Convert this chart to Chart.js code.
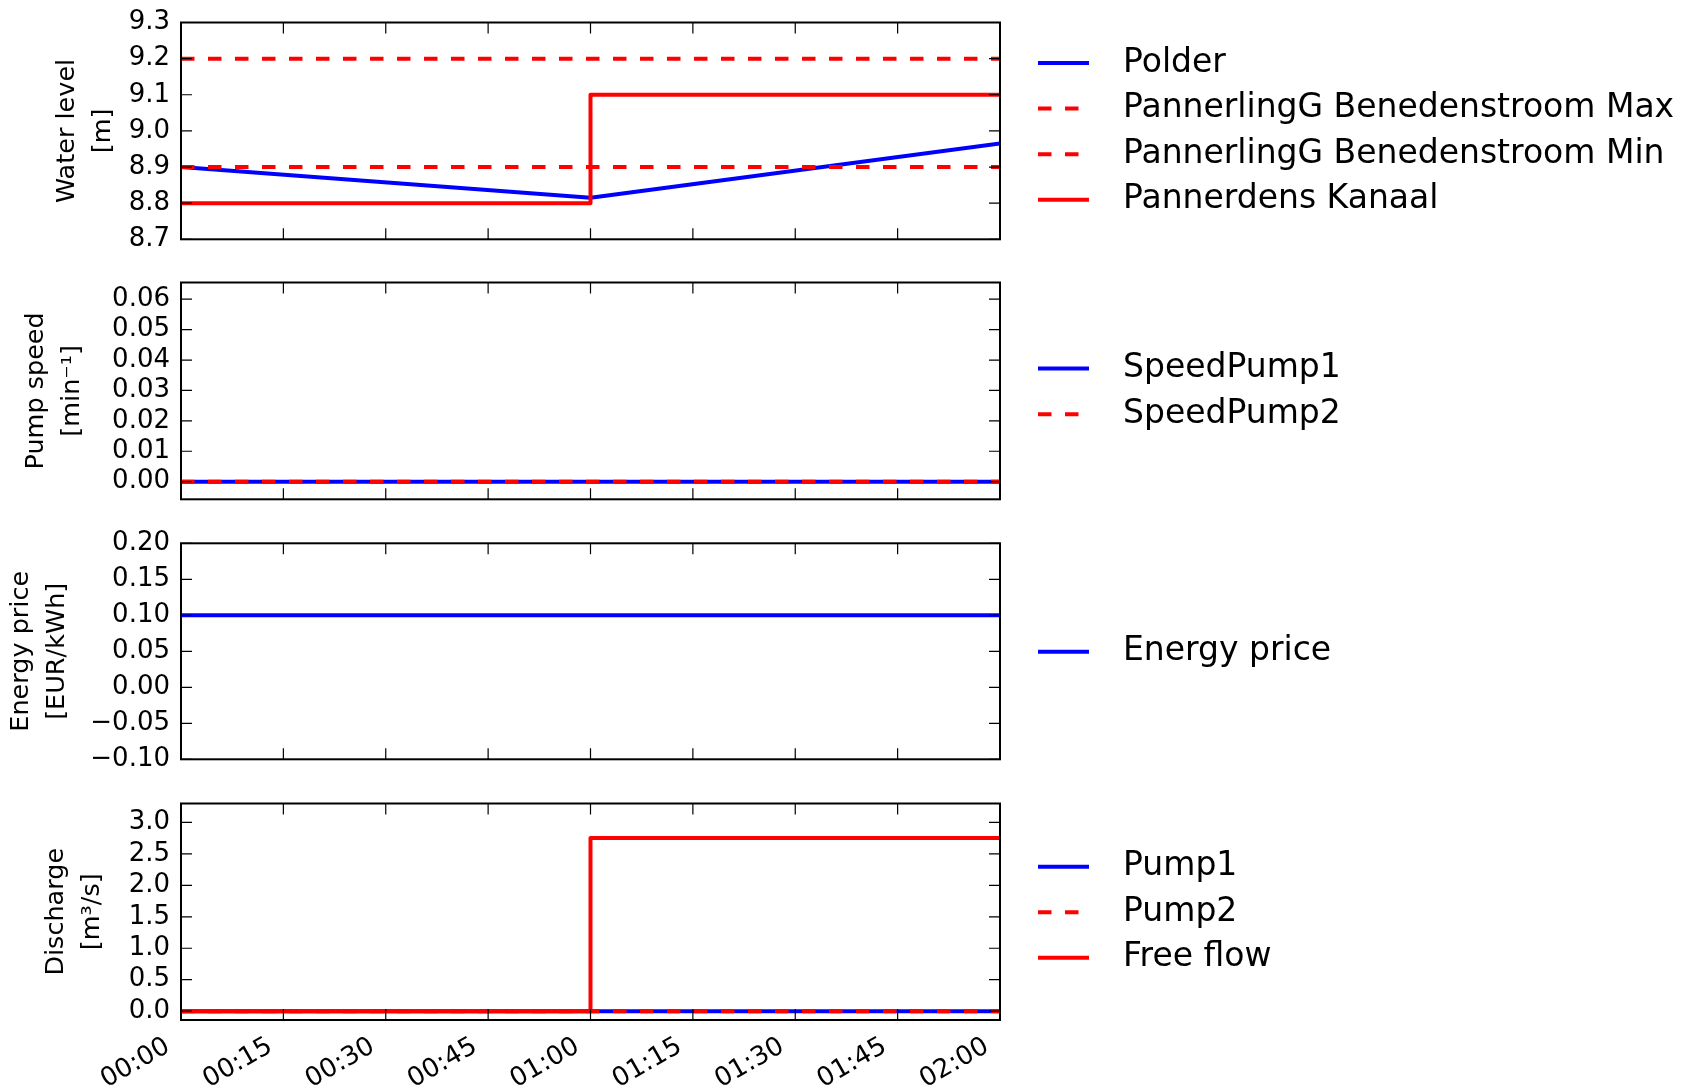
<!DOCTYPE html>
<html>
<head>
<meta charset="utf-8">
<script src="https://cdn.jsdelivr.net/npm/chart.js@4.4.0/dist/chart.umd.min.js"></script>
<style>
  html, body { margin: 0; padding: 0; background: #fff; }
  #wrap { position: relative; width: 1694px; height: 1088px; }
  canvas { position: absolute; left: 0; }
</style>
</head>
<body>
<div id="wrap">
  <canvas id="level" width="1694" height="260" style="top:0px"></canvas>
  <canvas id="speed" width="1694" height="260" style="top:260px"></canvas>
  <canvas id="price" width="1694" height="260" style="top:520px"></canvas>
  <canvas id="discharge" width="1694" height="308" style="top:780px"></canvas>
</div>
<script>
// time in minutes since 00:00
const times = [0, 60, 120];
const timeLabels = ['00:00', '00:15', '00:30', '00:45', '01:00', '01:15', '01:30', '01:45', '02:00'];

// water level [m]
const polder = [8.9, 8.815, 8.965];
const benedenMax = [9.2, 9.2, 9.2];
const benedenMin = [8.9, 8.9, 8.9];
const pannerdensKanaal = [8.8, 9.1, 9.1];

// pump speed [1/min]
const speedPump1 = [0, 0, 0];
const speedPump2 = [0, 0, 0];

// energy price [EUR/kWh]
const energyPrice = [0.1, 0.1, 0.1];

// discharge [m3/s]
const pump1 = [0, 0, 0];
const pump2 = [0, 0, 0];
const freeFlow = [0, 2.75, 2.75];

const BLUE = '#0000ff';
const RED = '#ff0000';
const DASH = [13.5, 13.5];

Chart.defaults.font.family = '"DejaVu Sans", sans-serif';
Chart.defaults.color = '#000';

function series(label, values, color, extra) {
  return Object.assign({
    label: label,
    data: values.map((v, i) => ({ x: times[i], y: v })),
    borderColor: color,
    borderWidth: 4,
    borderJoinStyle: 'round',
    pointRadius: 0,
    fill: false
  }, extra || {});
}

// axis frame with inward ticks on all four sides (classic matplotlib look)
const framePlugin = {
  id: 'frame',
  afterDatasetsDraw(chart) {
    const { ctx, chartArea: a, scales } = chart;
    ctx.save();
    ctx.strokeStyle = '#000';
    ctx.lineWidth = 1.2;
    ctx.beginPath();
    scales.x.ticks.forEach(t => {
      const px = scales.x.getPixelForValue(t.value);
      ctx.moveTo(px, a.bottom); ctx.lineTo(px, a.bottom - 11);
      ctx.moveTo(px, a.top); ctx.lineTo(px, a.top + 11);
    });
    scales.y.ticks.forEach(t => {
      const py = scales.y.getPixelForValue(t.value);
      ctx.moveTo(a.left, py); ctx.lineTo(a.left + 11, py);
      ctx.moveTo(a.right, py); ctx.lineTo(a.right - 11, py);
    });
    ctx.stroke();
    ctx.lineWidth = 2;
    ctx.strokeRect(a.left, a.top, a.right - a.left, a.bottom - a.top);
    ctx.restore();
  }
};

// legend to the right of each panel
const sideLegend = {
  id: 'sideLegend',
  afterDraw(chart) {
    const { ctx, chartArea: a } = chart;
    const sets = chart.data.datasets;
    const gap = 45.6;
    const y0 = (a.top + a.bottom) / 2 + 0.5 - (sets.length - 1) * gap / 2;
    ctx.save();
    ctx.font = '33px "DejaVu Sans"';
    ctx.textBaseline = 'middle';
    ctx.textAlign = 'left';
    sets.forEach((ds, i) => {
      const y = y0 + i * gap;
      ctx.strokeStyle = ds.borderColor;
      ctx.lineWidth = ds.borderWidth;
      ctx.setLineDash(ds.borderDash || []);
      ctx.beginPath();
      ctx.moveTo(a.right + 38, y);
      ctx.lineTo(a.right + 89, y);
      ctx.stroke();
      ctx.setLineDash([]);
      ctx.fillStyle = '#000';
      ctx.fillText(ds.label, a.right + 123, y);
    });
    ctx.restore();
  }
};

function fmt(v, d) {
  const s = (Math.abs(v) < 1e-9 ? 0 : v).toFixed(d);
  return s.replace('-', '\u2212');
}

function makeChart(id, o) {
  const bottomAxis = !!o.showX;
  new Chart(document.getElementById(id), {
    type: 'line',
    data: { datasets: o.datasets },
    options: {
      responsive: false,
      animation: false,
      devicePixelRatio: 1,
      layout: { padding: { top: o.top || 22.5, right: 694, bottom: 0, left: 0 } },
      plugins: { legend: { display: false }, tooltip: { enabled: false } },
      scales: {
        x: {
          type: 'linear',
          min: 0,
          max: 120,
          grid: { display: false, drawTicks: false },
          border: { display: false },
          ticks: {
            display: bottomAxis,
            stepSize: 15,
            autoSkip: false,
            maxRotation: 30,
            minRotation: 30,
            padding: 11,
            labelOffset: -13,
            font: { size: 26 },
            callback: v => timeLabels[Math.round(v / 15)]
          },
          afterFit: s => { s.height = bottomAxis ? 68 : 20.7; }
        },
        y: {
          min: o.min,
          max: o.max,
          grid: { display: false, drawTicks: false },
          border: { display: false },
          ticks: {
            stepSize: o.step,
            includeBounds: false,
            padding: 11,
            font: { size: 26 },
            callback: v => fmt(v, o.decimals)
          },
          title: {
            display: true,
            text: o.title,
            padding: { top: o.titlePad, bottom: 0 },
            font: { size: 25.5, lineHeight: 1.412 }
          },
          afterFit: s => { s.width = 181; s.paddingTop = 0; s.paddingBottom = 0; }
        }
      }
    },
    plugins: [framePlugin, sideLegend]
  });
}

makeChart('level', {
  title: ['Water level', '[m]'], titlePad: 49,
  min: 8.7, max: 9.3, step: 0.1, decimals: 1,
  datasets: [
    series('Polder', polder, BLUE, { order: 4 }),
    series('PannerlingG Benedenstroom Max', benedenMax, RED, { borderDash: DASH, order: 3 }),
    series('PannerlingG Benedenstroom Min', benedenMin, RED, { borderDash: DASH, order: 2 }),
    series('Pannerdens Kanaal', pannerdensKanaal, RED, { stepped: 'before', order: 1 })
  ]
});

makeChart('speed', {
  title: ['Pump speed', '[min\u207B\u00B9]'], titlePad: 18.5,
  min: -0.0058, max: 0.0655, step: 0.01, decimals: 2,
  datasets: [
    series('SpeedPump1', speedPump1, BLUE, { order: 2 }),
    series('SpeedPump2', speedPump2, RED, { borderDash: DASH, order: 1 })
  ]
});

makeChart('price', {
  title: ['Energy price', '[EUR/kWh]'], titlePad: 3.3, top: 23.3,
  min: -0.1, max: 0.2, step: 0.05, decimals: 2,
  datasets: [
    series('Energy price', energyPrice, BLUE)
  ]
});

makeChart('discharge', {
  title: ['Discharge', '[m\u00B3/s]'], titlePad: 38.3, showX: true, top: 23.5,
  min: -0.14, max: 3.3, step: 0.5, decimals: 1,
  datasets: [
    series('Pump1', pump1, BLUE, { order: 3 }),
    series('Pump2', pump2, RED, { borderDash: DASH, order: 2 }),
    series('Free flow', freeFlow, RED, { stepped: 'before', order: 1 })
  ]
});
</script>
</body>
</html>
